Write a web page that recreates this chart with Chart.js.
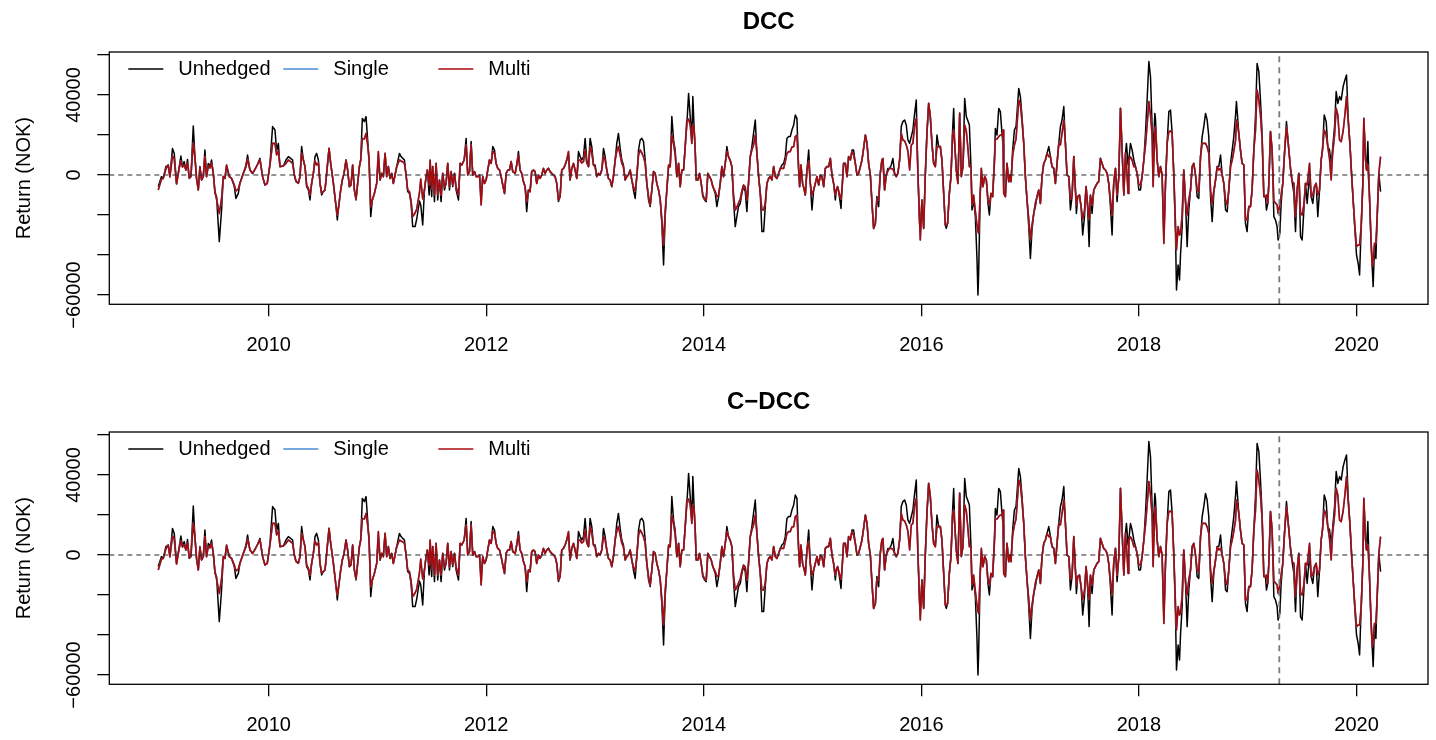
<!DOCTYPE html>
<html>
<head>
<meta charset="utf-8">
<title>Hedged and unhedged returns</title>
<script src="https://cdn.jsdelivr.net/npm/chart.js@4.4.1/dist/chart.umd.min.js"></script>
<style>
  html, body { margin: 0; padding: 0; background: #fff; }
  #wrap { position: relative; width: 1436px; height: 740px; overflow: hidden; }
  canvas { position: absolute; left: 0; }
</style>
</head>
<body>
<div id="wrap">
  <canvas id="dcc" width="1436" height="380" style="top:0px"></canvas>
  <canvas id="cdcc" width="1436" height="360" style="top:380px"></canvas>
</div>
<script>
// Observation dates as decimal years
const dates = [
2008.985,2009.015,2009.031,2009.055,2009.077,2009.092,2009.116,2009.132,2009.153,2009.178,2009.193,2009.208,2009.224,2009.239,2009.254,2009.270,2009.285,2009.307,2009.322,2009.337,2009.353,2009.368,2009.383,2009.399,2009.414,2009.429,2009.445,2009.460,2009.475,2009.491,2009.506,2009.521,2009.546,2009.567,2009.583,2009.598,2009.613,2009.638,2009.659,2009.684,2009.699,2009.721,2009.736,2009.751,2009.773,2009.791,2009.806,2009.828,2009.852,2009.874,2009.895,2009.920,2009.944,2009.966,2009.987,2010.012,2010.036,2010.058,
2010.073,2010.089,2010.104,2010.135,2010.159,2010.181,2010.202,2010.220,2010.236,2010.251,2010.273,2010.288,2010.303,2010.319,2010.334,2010.349,2010.365,2010.380,2010.395,2010.411,2010.426,2010.441,2010.457,2010.472,2010.487,2010.503,2010.518,2010.533,2010.555,2010.570,2010.595,2010.616,2010.631,2010.647,2010.662,2010.677,2010.693,2010.711,2010.726,2010.742,2010.757,2010.772,2010.788,2010.803,2010.815,2010.834,2010.846,2010.861,2010.880,2010.895,2010.910,2010.923,2010.938,2010.953,2010.972,2010.993,2011.008,2011.024,2011.039,2011.054,2011.070,2011.085,2011.100,2011.116,2011.131,2011.146,2011.162,
2011.177,2011.202,2011.217,2011.233,2011.248,2011.263,2011.278,2011.294,2011.309,2011.324,2011.346,2011.361,2011.386,2011.398,2011.416,2011.432,2011.447,2011.459,2011.475,2011.484,2011.499,2011.508,2011.524,2011.539,2011.554,2011.570,2011.585,2011.600,2011.616,2011.631,2011.646,2011.662,2011.677,2011.692,2011.708,2011.723,2011.745,2011.760,2011.775,2011.797,2011.815,2011.830,2011.846,2011.861,2011.876,2011.892,2011.907,2011.922,2011.938,2011.953,2011.968,2011.984,2011.999,2012.014,2012.030,2012.045,2012.060,2012.076,2012.091,2012.106,2012.122,2012.137,2012.152,2012.168,2012.183,2012.198,2012.214,2012.229,2012.244,2012.266,
2012.280,2012.296,2012.311,2012.326,2012.342,2012.357,2012.372,2012.388,2012.403,2012.418,2012.434,2012.449,2012.464,2012.480,2012.495,2012.510,2012.526,2012.541,2012.556,2012.572,2012.587,2012.602,2012.618,2012.633,2012.648,2012.664,2012.679,2012.694,2012.710,2012.725,2012.740,2012.756,2012.771,2012.786,2012.802,2012.817,2012.832,2012.848,2012.863,2012.878,2012.894,2012.909,2012.924,2012.940,2012.955,2012.970,2012.986,2013.001,2013.016,2013.032,2013.047,2013.062,2013.078,2013.093,2013.108,2013.123,2013.139,2013.154,2013.169,2013.185,2013.200,2013.215,2013.231,2013.246,2013.261,2013.277,2013.292,2013.307,2013.323,2013.338,2013.353,2013.369,
2013.384,2013.400,2013.415,2013.430,2013.446,2013.461,2013.476,2013.492,2013.507,2013.522,2013.538,2013.553,2013.568,2013.584,2013.599,2013.614,2013.630,2013.645,2013.660,2013.676,2013.691,2013.706,2013.722,2013.737,2013.752,2013.768,2013.783,2013.798,2013.814,2013.829,2013.844,2013.860,2013.875,2013.890,2013.899,2013.912,2013.921,2013.930,2013.945,2013.961,2013.976,2013.991,2014.007,2014.022,2014.037,2014.053,2014.068,2014.083,2014.105,2014.120,2014.136,2014.151,2014.166,2014.181,2014.197,2014.212,2014.227,2014.243,2014.258,2014.273,2014.289,2014.304,2014.319,2014.335,2014.350,2014.365,2014.381,2014.396,2014.411,2014.427,2014.442,2014.457,2014.473,
2014.488,2014.504,2014.519,2014.534,2014.550,2014.565,2014.580,2014.596,2014.611,2014.626,2014.642,2014.657,2014.672,2014.688,2014.703,2014.718,2014.734,2014.749,2014.764,2014.780,2014.795,2014.810,2014.826,2014.841,2014.856,2014.872,2014.881,2014.893,2014.908,2014.924,2014.933,2014.948,2014.964,2014.979,2014.994,2015.010,2015.025,2015.040,2015.056,2015.071,2015.086,2015.102,2015.117,2015.132,2015.148,2015.163,2015.178,2015.193,2015.209,2015.218,2015.230,2015.249,2015.261,2015.270,2015.285,2015.301,2015.316,2015.331,2015.347,2015.362,2015.377,2015.393,2015.408,2015.423,2015.439,2015.454,2015.469,2015.485,2015.500,2015.515,2015.531,2015.546,2015.561,2015.577,
2015.591,2015.607,2015.622,2015.637,2015.647,2015.662,2015.677,2015.692,2015.708,2015.723,2015.738,2015.754,2015.769,2015.784,2015.800,2015.815,2015.830,2015.846,2015.861,2015.876,2015.892,2015.907,2015.922,2015.938,2015.953,2015.968,2015.984,2015.990,2016.005,2016.021,2016.036,2016.051,2016.067,2016.082,2016.097,2016.113,2016.128,2016.143,2016.159,2016.174,2016.189,2016.205,2016.220,2016.229,2016.241,2016.257,2016.272,2016.287,2016.297,2016.306,2016.321,2016.336,2016.352,2016.367,2016.382,2016.398,2016.413,2016.425,2016.441,2016.456,2016.465,2016.480,2016.496,2016.511,2016.520,2016.526,2016.542,2016.551,2016.566,2016.582,2016.597,2016.612,2016.625,2016.640,2016.655,2016.671,2016.680,
2016.695,2016.711,2016.726,2016.741,2016.751,2016.757,2016.772,2016.787,2016.803,2016.812,2016.824,2016.839,2016.855,2016.870,2016.879,2016.895,2016.910,2016.925,2016.941,2016.956,2016.971,2016.987,2017.002,2017.017,2017.033,2017.048,2017.063,2017.079,2017.094,2017.109,2017.125,2017.140,2017.155,2017.171,2017.186,2017.201,2017.217,2017.232,2017.247,2017.263,2017.278,2017.293,2017.309,2017.324,2017.339,2017.355,2017.370,2017.385,2017.401,2017.416,2017.425,2017.437,2017.453,2017.468,2017.483,2017.499,2017.514,2017.529,2017.542,2017.554,2017.569,2017.585,2017.600,2017.615,2017.630,2017.646,2017.661,2017.676,2017.692,2017.707,2017.722,2017.738,2017.753,2017.768,2017.784,
2017.799,2017.815,2017.830,2017.845,2017.861,2017.876,2017.885,2017.900,2017.907,2017.922,2017.937,2017.953,2017.968,2017.983,2017.999,2018.014,2018.029,2018.045,2018.060,2018.075,2018.091,2018.106,2018.121,2018.130,2018.146,2018.152,2018.167,2018.183,2018.198,2018.213,2018.229,2018.244,2018.259,2018.275,2018.290,2018.305,2018.321,2018.336,2018.345,2018.360,2018.373,2018.382,2018.397,2018.412,2018.428,2018.443,2018.458,2018.474,2018.489,2018.504,2018.520,2018.535,2018.550,2018.566,2018.581,2018.596,2018.612,2018.627,2018.642,2018.658,2018.673,2018.688,2018.704,2018.719,2018.734,2018.750,2018.765,2018.780,2018.796,2018.811,2018.826,2018.842,2018.857,2018.872,2018.888,
2018.896,2018.918,2018.933,2018.948,2018.964,2018.979,2018.994,2019.010,2019.025,2019.040,2019.056,2019.071,2019.086,2019.102,2019.117,2019.132,2019.148,2019.163,2019.172,2019.184,2019.194,2019.209,2019.224,2019.240,2019.255,2019.270,2019.279,2019.295,2019.307,2019.322,2019.338,2019.356,2019.378,2019.393,2019.408,2019.424,2019.439,2019.454,2019.470,2019.485,2019.500,2019.516,2019.531,2019.546,2019.568,2019.583,2019.598,2019.614,2019.629,2019.644,2019.660,2019.675,2019.687,2019.703,2019.721,2019.736,2019.752,2019.767,2019.779,2019.798,2019.813,2019.828,2019.844,2019.859,2019.877,2019.893,2019.908,2019.923,2019.939,2019.954,2019.969,2019.985,2020.000,2020.015,2020.028,2020.043,2020.058,2020.067,2020.083,2020.092,2020.104,2020.117,2020.132,2020.144,2020.153,2020.166,2020.178,2020.190,2020.205,2020.221
];

// Unhedged portfolio return, thousand NOK
const unhedged = [
-5.8,-0.8,-1.7,4.2,5,-0.5,13.3,10.8,-4.2,4.2,9.5,4.2,6.7,2.5,7.8,-1.7,-0.8,24.5,9.2,-1.7,-7.5,4.2,-2.5,-0.8,12.5,-0.8,5.8,4.2,7.5,0.8,-9.2,-10.8,-33.3,-17.5,-0.8,-1.7,4.2,-0.8,-1.7,-5.8,-11.7,-9.2,-4.2,-1.7,1.7,5,10,2.5,0.8,2.8,5,8.3,-0.8,-5,-4.2,5.8,24.2,22.5,
12,15.8,4.2,4.5,7.5,9.2,8.3,7.5,0,-3.3,-4.2,-0.8,14.2,7.5,4.2,-5.8,-7.5,-12.5,-4.2,0.8,9.2,10.8,7.5,-4.2,-10,-8.3,-7.5,0.8,13.3,5.8,-4.2,-14.2,-22.5,-14.2,-7.5,-2.5,0.8,7.5,2.5,-5.8,-5,5,-7.5,-12.5,-5.8,4.2,7.5,28.3,26.7,29.2,17.5,7.5,-20.8,-12.5,-9.2,-4.2,8,-2.5,0.8,-0.8,10.8,-0.8,4.2,-1.7,0.8,-4.2,0,
4.2,10.8,9.2,8.3,7.5,0,-8.3,-9.2,-14.2,-25.8,-25.8,-22,-13,-15,-25,-7.5,-0.8,2.5,-10,0,-10.8,4.2,-13.3,5.8,-12.5,-2.5,-13.3,0.8,-7.5,-4.2,5.8,-7.5,1.7,-5.8,0.8,-7.5,-12.5,5.8,5,7.5,18.3,0,1.7,16.7,0,1.7,-0.8,-0.8,0,-10.8,-0.8,-4.2,-2.5,2.5,7.5,5.8,14.2,12.5,5.8,3.3,2.5,-0.8,-5,-9.2,0.8,2.5,2.5,6.7,1.7,0.8,
5,11.7,2.5,0.8,-3.3,-5.8,-18.3,-7.5,-8.3,1.7,2.5,1.7,-4.2,0,-1.7,0,3.3,0.8,2.5,3.3,1.7,0.8,0,-0.8,-4.2,-13.3,-10.8,2.5,3.3,5,7.5,10,-2.5,3.3,5.8,2.5,-1.7,11.7,9.2,7.5,9.2,18.3,7.5,4.2,18.3,14.2,5,5,-0.8,0.8,0,2.5,13.3,9.2,2.5,-1.7,-2.5,-5.8,-0.8,7.5,15.8,20.8,13.3,7.5,5,-2.5,-0.8,0,2.5,-2.5,-7.5,-11.7,
-0.8,12.5,17.5,18.3,16.7,7.5,-4.2,-12.5,-15.8,-7.5,1.7,0.8,-4.2,-7.5,-12.5,-24.2,-45,-20.8,-7.5,4,4.2,29.2,17.5,12.5,-0.8,5.8,-5.8,2.5,2.5,14.2,25,40.8,29.2,18,39.2,22,12.5,-2.5,-2.5,0.8,-4.2,-10.8,-12.5,-13.3,0.8,-0.8,-2.5,-5.8,-9.2,-15.8,-10.8,-4.2,4.2,-0.8,5.8,14.2,9.2,7.5,4.2,-12.5,-25.8,-20.8,-15.8,-14.2,-9.2,-5.8,-8.3,-18.3,-4.2,9.2,14.2,20.8,27.5,
10.8,-0.8,-9.2,-28.3,-28.3,-15.8,-4.2,-1.7,-0.8,-2.5,4.2,-0.8,-1.7,0.8,3.3,5,5.8,9.2,18.3,19.2,19.2,22.5,25,30,28.3,2.5,-5.8,5,-4.2,-7.5,-10,2.5,12.5,-4.2,-17.5,-7.5,-4.2,-0.8,-5,0,-0.8,-5.8,3.3,4.2,4.2,8.3,0,-4.2,-12.5,-7.5,-5.8,-11.7,-16.7,-7.5,5.8,5.8,-0.8,9.2,7.5,12.5,12.5,5.8,0,0.8,4.2,7.5,13.3,20,15.8,5.8,0,-14.2,-26.7,-24.2,
-10.8,-15.8,0.8,7.5,6,-7.5,0,3.3,3.3,5,8.3,0.8,-0.8,0.8,7.5,24.2,26.7,27.5,25,17.5,15.8,19.2,22.5,30.8,37.5,0.8,-24.2,-28,-12.5,-26.7,0,20.8,35.8,29.2,15.8,5.8,4.2,20,14.2,14.2,7.5,-9.2,-25,-26.7,-24.2,-9.2,-0.8,22.5,33.3,15.8,2.5,-4.2,31,-0.8,4.2,38.3,29.2,27.5,25,4.2,-17.5,-12.5,-20.8,-41.7,-60,-50,-7.5,-2,-5.8,-0.8,-2.5,-14.2,-20,-9.2,-10.8,7.5,23.3,
20,33.3,31.7,20.8,15,-9.2,-10.8,5.8,-3.3,0,-3.3,12.5,22.5,24.2,30.8,43.3,39.2,29.2,15.8,-0.8,-12.5,-25.8,-41.7,-27.5,-19.2,-15.8,-10.8,-7.5,-14.2,-0.8,5.8,7.5,10.8,14.2,9.2,4.2,3.3,-4.2,5.8,15.8,24.2,27.5,34.2,15.8,0,-0.8,-17.5,-10.8,9.2,-7.5,-19.2,-10.8,-10,-15.8,-30,-20.8,-5.8,-17.5,-35.8,-10.8,-19.2,-7.5,-5.8,-4.2,-3.3,8.3,5.8,3.3,2.5,0.8,-4.2,-15.8,-30,-4.2,3.3,
-13.3,-0.8,33.3,12.5,-10,10.8,15.8,5,7.5,15.8,12.5,7.5,4.2,0.8,-7.5,-7.5,-0.8,7.5,20.8,37.5,56.7,49.2,24.2,10,30.8,28,7.5,-0.8,4.2,0,-30.8,-4.2,15.8,31.7,32.5,20.8,-0.8,-30,-57.5,-45,-52.5,-40,-25.8,2.5,-13.3,-35.8,-17.5,-7.5,4.2,5.8,0,-10.8,-11.7,9.2,19.2,24.2,30.8,27.5,19.2,-10.8,-23.3,-9.2,-2.5,4.2,4.2,10,0,-4.2,-17.5,-18.3,-7.5,5.8,12.5,19.2,30,
36.7,20.8,12.5,5.8,5,-24.2,-28.3,-15.8,-15.8,-7.5,12.5,29.2,55.8,51.7,37.5,20.8,-10.8,-10.8,-17.5,-14.2,-4.2,21.7,12.5,-20.8,-22.5,-25.8,-32.5,-29.2,-14.2,-4.2,10.8,26.7,12.5,3.3,-3.3,-9.2,-28.3,-7.5,0.8,-30.8,-32.5,-17.5,-4.2,-14.2,0,-10.8,-14.2,-5.8,-4.2,-20.8,-7.5,7.5,12.5,30,26.7,14.2,12.5,5,12.5,24.2,41.7,35.8,39.2,37.5,44.2,47.5,50,29.2,15.8,0.8,-12.5,-27.5,-40,-44.2,-50,-25.8,-4.2,28.3,7.5,2.5,16.7,-7.5,-30.8,-45.8,-55.8,-34.2,-41.7,-20.8,0.8,-8.3
];

// Multi-currency hedge return, thousand NOK
const multiHedged = [
-7.5,-2,-1.7,3,5,-1,9.5,8,-4.5,3.5,7,4,5,2.5,6,-1.5,-0.8,16,9.2,-1.7,-7.5,4,-2.5,-0.8,9.2,-0.8,4.5,3.5,6,0.8,-8,-12,-19.2,-12,-0.8,-1.7,5,-0.8,-1.7,-5,-8,-7,-4,-1.7,1.7,4,8,2.5,0.8,2.8,5,7.5,-0.8,-5,-4.2,5,15.8,15.8,
10,12,4.2,4.5,5.8,7.5,6.7,5.8,0,-3,-4,-0.8,10.8,7.5,4.2,-5,-6.7,-10,-4.2,0.8,7,5,6,-4.2,-9,-8.3,-7.5,0.8,13.3,5.8,-4.2,-14.2,-20,-14.2,-7.5,-2.5,0.8,7.5,2.5,-5.8,-5,5,-7.5,-12,-5.8,4.2,7.5,18.3,18,20.8,15,7.5,-15.8,-12.5,-9.2,-4.2,11.7,-2.5,0.8,-0.8,10.8,-0.8,4.2,-1.7,0.8,-4.2,0,
4.2,7.5,7,6.5,5.8,0,-7.5,-8.3,-13,-20.8,-19,-17,-9,-2,-12,-7.5,-0.8,2.5,-5,7.5,-7,4.2,-10,5.8,-10,-2.5,-10,0.8,-6,-4.2,5.8,-6,1.7,-5,0.8,-6,-10,5.8,5,7.5,15,0,1.7,15,0,1.7,-0.8,-0.8,0,-15,-0.8,-4.2,-2.5,2.5,7.5,5.8,12,10.8,5.8,3.3,2.5,-0.8,-5,-9.2,0.8,2.5,2.5,6.7,1.7,0.8,
5,10,2.5,0.8,-3.3,-5.8,-13.3,-7.5,-8.3,1.7,2.5,1.7,-4.2,0,-1.7,0,3.3,0.8,2.5,3.3,1.7,0.8,0,-0.8,-4.2,-12.5,-10.8,2.5,3.3,5,7.5,11.7,-2.5,3.3,5.8,2.5,-1.7,7.5,7.5,6,6.7,12.5,6,4.2,14.2,11,5,4,-0.8,0.8,0,2.5,9.2,7.5,2.5,-1.7,-2.5,-5.8,-0.8,7.5,12,14.2,10,6,4,-2.5,-0.8,0,2.5,-2.5,-6,-8,
-0.8,10,12.5,11,9,6,-4.2,-10.8,-15,-7.5,1.7,0.8,-4.2,-7.5,-12,-22,-35,-18,-7.5,5,4.2,20,15.8,10,-0.8,5.8,-5.8,2.5,2.5,14.2,27.5,28,25,15.8,25,22,12.5,-2.5,-2.5,0.8,-4.2,-10,-12,-12.5,0.8,-0.8,-2.5,-5.8,-8.3,-10.8,-10,-4.2,4.2,-0.8,5.8,11.7,9.2,7,4.2,-10,-17.5,-16,-14,-12,-8,-5,-6,-12.5,-4.2,9.2,12.5,15,20,
10.8,-0.8,-9.2,-17.5,-17.5,-14,-4.2,-1.7,-0.8,-2.5,4.2,-0.8,-1.7,0.8,3.3,3.3,3.3,6.7,10.8,11.7,11.7,14,14.2,19.2,20,2.5,-5.8,5,-4.2,-7.5,-10,2.5,7,-4.2,-10,-7.5,-4.2,-0.8,-5,0,-0.8,-5.8,3.3,4.2,4.2,8.3,0,-4.2,-10,-7.5,-5.8,-10,-12,-7.5,5.8,5.8,-0.8,9.2,7.5,11.7,10,5.8,0,0.8,4.2,7.5,13.3,20,15.8,5.8,0,-14.2,-26.7,-24.2,
-12,-12.5,0.8,7.5,8.3,-7.5,0,2,3.3,3.3,3,0.8,-0.8,0.8,7.5,20.8,17.5,17,15,12,2.5,15,15.8,25,28.3,0.8,-24.2,-32.5,-12.5,-26.7,0,20.8,35.8,29.2,15.8,5.8,4.2,14.2,14.2,14.2,7.5,-9.2,-25,-25,-24.2,-9.2,-0.8,20,22.5,15.8,2.5,-4.2,30.8,-0.8,4.2,25,22,15,4.2,4.2,-15,-10,-18,-25,-28,-29.2,-7.5,3.3,-5.8,-0.8,-2.5,-12,-15,-9.2,-10.8,5.8,18,
18,19.2,20,20,22.5,-9.2,-10.8,5.8,-3.3,0,-3.3,10,15,18,25,37.5,35,27,15.8,-0.8,-12.5,-22,-32.5,-25,-19.2,-14,-10.8,-7.5,-14.2,-0.8,5.8,7.5,10.8,9.2,9.2,4.2,3.3,-4.2,5.8,15.8,15,20.8,27.5,15.8,0,-0.8,-12,-10.8,9.2,-7.5,-15,-10.8,-10,-15.8,-22,-18,-5.8,-15,-22,-10,-15,-7.5,-5.8,-4.2,-3.3,8.3,5.8,3.3,2.5,0.8,-4.2,-12.5,-20,-4.2,3.3,
-10,-0.8,33.3,12.5,-10,10.8,5,-9.2,7.5,9,7.5,4.2,4.2,0.8,-5,-5,-0.8,7.5,15,25,36.7,30,20,-5.8,22,24.2,7.5,-0.8,4.2,0,-34.2,-4.2,15.8,21.7,22,20.8,-0.8,-25,-37.5,-25.8,-30,-29.2,-20,2.5,-13.3,-20,-12.5,-7.5,4.2,5.8,0,-7.5,-8.3,9.2,15.8,15.8,15.8,14,10.8,-7.5,-14.2,-8,-2.5,4.2,2.5,3.3,0,-4.2,-12.5,-15,-7.5,4.2,7.5,12,17.5,
27.5,20.8,12.5,5.8,5,-22.5,-22.5,-15.8,-15.8,-7.5,12.5,22,42.5,37.5,30,18,-10.8,-10.8,-10,-14.2,-4.2,21.7,12.5,-13,-14,-15,-19.2,-15,-10,-4.2,10.8,24.2,12.5,3.3,-3.3,-4,-20.8,-7.5,0.8,-19.2,-20,-15,-4.2,-5,5.8,-10.8,-10,-5.8,-4.2,-10,-7.5,7.5,12.5,22.5,20,14.2,8,-2.5,10,20,33.3,30,17.5,16.7,22,30,39.2,27,15.8,0.8,-12.5,-25.8,-35.8,-35,-35,-25.8,-4.2,28.3,7.5,2.5,5,-7.5,-30.8,-45.8,-42,-34.2,-34,-20.8,0.8,9.2
];

// The single-currency hedge runs underneath the multi-currency hedge
const singleHedged = multiHedged;

const xTicks = [2010, 2012, 2014, 2016, 2018, 2020];
const yTicks = [-60000, -40000, -20000, 0, 20000, 40000, 60000];
const yTickLabels = [-60000, 0, 40000];
const xLimits = [2008.535, 2020.657];
const yLimits = [-64650, 61500];
const splitDate = 2019.29;
const panelTitles = ['DCC', 'C\u2212DCC'];
const seriesNames = ['Unhedged', 'Single', 'Multi'];
const yTitle = 'Return (NOK)';

const FONT = '"Liberation Sans", Arial, Helvetica, sans-serif';
const COLORS = { Unhedged: '#000000', Single: '#4a8ad4', Multi: '#a80a0a' };

function minusFmt(v) {
  return v < 0 ? '\u2212' + Math.abs(v) : String(v);
}

// Box, rotated y labels, title and legend
const framePlugin = {
  id: 'frame',
  afterDraw(chart, args, opts) {
    const { ctx, chartArea: a, scales: { y } } = chart;
    ctx.save();
    ctx.strokeStyle = '#000';
    ctx.lineWidth = 1.3;
    ctx.strokeRect(a.left, a.top, a.right - a.left, a.bottom - a.top);

    ctx.fillStyle = '#000';
    ctx.font = '20px ' + FONT;
    ctx.textAlign = 'center';
    ctx.textBaseline = 'alphabetic';
    for (const v of yTickLabels) {
      ctx.save();
      ctx.translate(a.left - 29, y.getPixelForValue(v));
      ctx.rotate(-Math.PI / 2);
      ctx.fillText(minusFmt(v), 0, 0);
      ctx.restore();
    }
    ctx.save();
    ctx.translate(30, (a.top + a.bottom) / 2);
    ctx.rotate(-Math.PI / 2);
    ctx.fillText(yTitle, 0, 0);
    ctx.restore();

    ctx.font = 'bold 24px ' + FONT;
    ctx.textBaseline = 'middle';
    ctx.fillText(opts.title, (a.left + a.right) / 2, 22);

    // legend across the top-left of the plot
    ctx.font = '20px ' + FONT;
    ctx.textAlign = 'left';
    const ly = a.top + 17;
    seriesNames.forEach((name, i) => {
      const x0 = a.left + 19 + i * 155;
      ctx.strokeStyle = COLORS[name];
      ctx.lineWidth = 1.5;
      ctx.beginPath();
      ctx.moveTo(x0, ly);
      ctx.lineTo(x0 + 35, ly);
      ctx.stroke();
      ctx.fillText(name, x0 + 50, ly);
    });
    ctx.restore();
  }
};

function points(values) {
  return dates.map((d, i) => ({ x: d, y: values[i] * 1000 }));
}

function makePanel(canvasId, title, canvasHeight) {
  const tickGrid = {
    drawOnChartArea: false, drawTicks: true, tickLength: 12,
    color: '#000', lineWidth: 1.3
  };
  return new Chart(document.getElementById(canvasId), {
    type: 'line',
    data: {
      datasets: [
        { label: 'zero', data: [{ x: xLimits[0], y: 0 }, { x: xLimits[1], y: 0 }],
          borderColor: '#2a2a2a', borderWidth: 1.2, borderDash: [5, 4], order: 0 },
        { label: 'split', data: [{ x: splitDate, y: yLimits[0] }, { x: splitDate, y: yLimits[1] }],
          borderColor: '#7a7a7a', borderWidth: 1.8, borderDash: [6, 5], order: 0 },
        { label: 'Multi', data: points(multiHedged), borderColor: COLORS.Multi, borderWidth: 1.6, order: 1 },
        { label: 'Single', data: points(singleHedged), borderColor: COLORS.Single, borderWidth: 1.6, order: 2 },
        { label: 'Unhedged', data: points(unhedged), borderColor: COLORS.Unhedged, borderWidth: 1.5, order: 3 }
      ]
    },
    options: {
      responsive: false,
      animation: false,
      devicePixelRatio: 1,
      layout: { padding: { top: 52, right: 8, left: 0, bottom: 0 } },
      elements: {
        point: { radius: 0, hoverRadius: 0 },
        line: { tension: 0, fill: false, borderJoinStyle: 'round' }
      },
      plugins: {
        legend: { display: false },
        tooltip: { enabled: false },
        frame: { title: title }
      },
      scales: {
        x: {
          type: 'linear', min: xLimits[0], max: xLimits[1],
          afterBuildTicks: s => { s.ticks = xTicks.map(v => ({ value: v })); },
          afterFit: s => { s.height = canvasHeight - 304.3; },
          grid: tickGrid,
          border: { display: false },
          ticks: {
            color: '#000', font: { family: FONT, size: 20 }, padding: 17,
            maxRotation: 0, autoSkip: false, callback: v => String(v)
          }
        },
        y: {
          type: 'linear', min: yLimits[0], max: yLimits[1],
          afterBuildTicks: s => { s.ticks = yTicks.map(v => ({ value: v })); },
          afterFit: s => { s.width = 109.3; },
          grid: tickGrid,
          border: { display: false },
          ticks: { display: false }
        }
      }
    },
    plugins: [framePlugin]
  });
}

makePanel('dcc', panelTitles[0], 380);
makePanel('cdcc', panelTitles[1], 360);
</script>
</body>
</html>
